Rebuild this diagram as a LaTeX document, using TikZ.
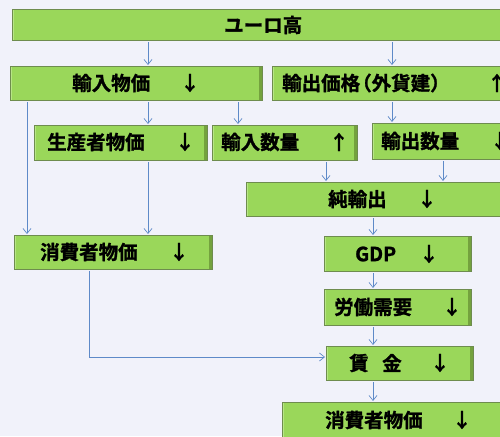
\documentclass[tikz,border=0pt]{standalone}
\usepackage{fontspec}
\newfontfamily\cjk{Noto Sans CJK JP}[BoldFont={Noto Sans CJK JP Bold},BoldFeatures={FakeBold=1.3}]
\usetikzlibrary{arrows.meta,calc}
\definecolor{bg}{HTML}{F1F2FA}
\definecolor{gbody}{HTML}{9AD75A}
\definecolor{gtop}{HTML}{C4EC98}
\definecolor{gdark}{HTML}{74A23E}
\definecolor{gedge}{HTML}{6E8C4E}
\definecolor{arrc}{HTML}{5E8AC8}
\tikzset{
  gbox/.style={rectangle, fill=gbody, draw=gedge, line width=0.7pt, inner sep=0pt, anchor=north west,
    path picture={
      \fill[gtop] ($(path picture bounding box.north west)+(0,-1.2)$) rectangle ($(path picture bounding box.north east)+(0,-4.5)$);
      \fill[gdark] (path picture bounding box.south west) rectangle ($(path picture bounding box.south east)+(0,3.5)$);
      \fill[gdark] (path picture bounding box.south east) rectangle ($(path picture bounding box.north east)+(-3,0)$);
      \fill[gtop!70!gbody] (path picture bounding box.south west) rectangle ($(path picture bounding box.north west)+(1.5,0)$);
    }},
  txt/.style={font=\cjk\bfseries\fontsize{19.5}{19.5}\selectfont, inner sep=0pt, anchor=west, text=black},
  arw/.style={font=\cjk\bfseries\fontsize{19.5}{19.5}\selectfont, inner sep=0pt, text=black},
  arr/.style={draw=arrc, line width=0.7pt, -{Straight Barb[length=5pt,width=8pt,line width=0.7pt]}, shorten <=1.5pt, shorten >=1pt}
}
\begin{document}
\begin{tikzpicture}[x=1pt,y=-1pt]
\fill[bg] (0,0) rectangle (500,436);
\useasboundingbox (0,0) rectangle (500,436);
\clip (0,0) rectangle (500,436);
% boxes
\node[gbox, minimum width=498, minimum height=31] (b1) at (12,9) {};
\node[gbox, minimum width=252, minimum height=34] (b2) at (10,66) {};
\node[gbox, minimum width=238, minimum height=34] (b3) at (272,66) {};
\node[gbox, minimum width=173, minimum height=35] (b4) at (34,125) {};
\node[gbox, minimum width=145, minimum height=35] (b5) at (212,125) {};
\node[gbox, minimum width=138, minimum height=36] (b6) at (372,123) {};
\node[gbox, minimum width=264, minimum height=34] (b7) at (246,182) {};
\node[gbox, minimum width=198, minimum height=34] (b8) at (14,235) {};
\node[gbox, minimum width=147, minimum height=35] (b9) at (324,236) {};
\node[gbox, minimum width=147, minimum height=36] (b10) at (324,289) {};
\node[gbox, minimum width=147, minimum height=34] (b11) at (326,346) {};
\node[gbox, minimum width=228, minimum height=43] (b12) at (282,402) {};
% texts
\node[txt] (t1) at (224,25) {ユーロ高};
\node[txt] (t2) at (72,83) {輸入物価};
\node[arw] (a2) at (190,83) {↓};
\node[txt] (t3) at (282,83) {輸出価格\kern-8pt（外貨建）};
\node[arw] (a3) at (497,83) {↑};
\node[txt] (t4) at (47,142) {生産者物価};
\node[arw] (a4) at (185,142) {↓};
\node[txt] (t5) at (221,142) {輸入数量};
\node[arw] (a5) at (339,142) {↑};
\node[txt] (t6) at (381,141) {輸出数量};
\node[arw] (a6) at (500,141) {↓};
\node[txt] (t7) at (328,199) {純輸出};
\node[arw] (a7) at (427,199) {↓};
\node[txt] (t8) at (40,252) {消費者物価};
\node[arw] (a8) at (179,252) {↓};
\node[txt] (t9) at (355,254) {GDP};
\node[arw] (a9) at (429,254) {↓};
\node[txt] (t10) at (334,307) {労働需要};
\node[arw] (a10) at (452,307) {↓};
\node[txt] (t11a) at (349,363) {賃};
\node[txt] (t11b) at (382,363) {金};
\node[arw] (a11) at (440,363) {↓};
\node[txt] (t12) at (325,420) {消費者物価};
\node[arw] (a12) at (462,420) {↓};
% columns
\coordinate (x148) at (148,0);
\coordinate (x238) at (238,0);
\coordinate (x392) at (392,0);
\coordinate (x27) at (27,0);
\coordinate (x326) at (326,0);
\coordinate (x443) at (443,0);
\coordinate (x373) at (373,0);
\coordinate (x89) at (89,0);
\coordinate (y357) at (0,357);
% connectors
\draw[arr] (b1.south -| x148) -- (b2.north -| x148);
\draw[arr] (b1.south -| x392) -- (b3.north -| x392);
\draw[arr] (b2.south -| x148) -- (b4.north -| x148);
\draw[arr] (b2.south -| x238) -- (b5.north -| x238);
\draw[arr] (b2.south -| x27) -- (b8.north -| x27);
\draw[arr] (b4.south -| x148) -- (b8.north -| x148);
\draw[arr] (b3.south -| x392) -- (b6.north -| x392);
\draw[arr] (b5.south -| x326) -- (b7.north -| x326);
\draw[arr] (b6.south -| x443) -- (b7.north -| x443);
\draw[arr] (b7.south -| x373) -- (b9.north -| x373);
\draw[arr] (b9.south -| x373) -- (b10.north -| x373);
\draw[arr] (b10.south -| x373) -- (b11.north -| x373);
\draw[arr] (b11.south -| x373) -- (b12.north -| x373);
\draw[arr] (b8.south -| x89) -- (x89 |- y357) -- (b11.west |- y357);
\end{tikzpicture}
\end{document}
